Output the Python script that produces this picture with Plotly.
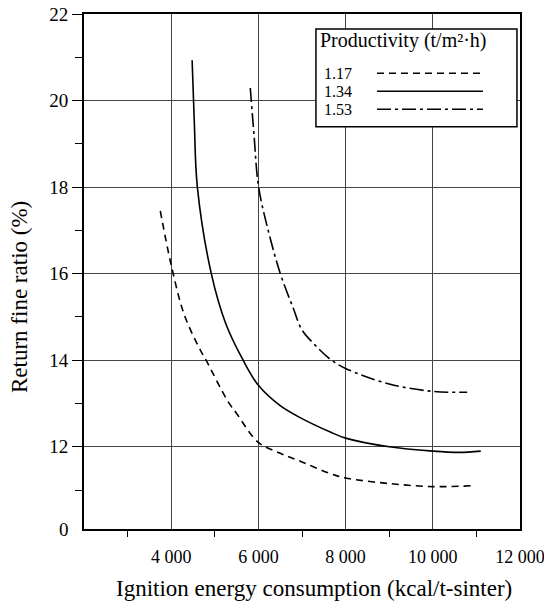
import plotly.graph_objects as go

# ---- data ----
x_117 = [3750, 4000, 4300, 4670, 4800, 5300, 5500, 6000, 6500, 7000, 7650, 8000, 9000, 10000, 10900]
y_117 = [17.45, 16.2, 15.05, 14.23, 14.0, 13.05, 12.77, 12.1, 11.85, 11.65, 11.38, 11.28, 11.15, 11.08, 11.1]

x_134 = [4480, 4530, 4600, 4920, 5250, 5650, 6000, 6500, 7000, 7650, 8000, 9000, 10000, 10600, 11100]
y_134 = [20.93, 19.5, 18.0, 16.0, 14.85, 14.0, 13.42, 12.95, 12.65, 12.34, 12.2, 12.0, 11.9, 11.87, 11.9]

x_153 = [5814, 5900, 6005, 6250, 6503, 6800, 7000, 7300, 7650, 8000, 9000, 10000, 10790]
y_153 = [20.29, 19.2, 18.0, 16.9, 16.0, 15.2, 14.7, 14.35, 14.02, 13.81, 13.45, 13.28, 13.26]

series_names = ["1.17", "1.34", "1.53"]
x_ticks = [4000, 6000, 8000, 10000, 12000]
x_ticktext = ["4 000", "6 000", "8 000", "10 000", "12 000"]
x_minor = [3000, 5000, 7000, 9000, 11000]
y_ticks = [12, 14, 16, 18, 20, 22]
y_ticktext = ["12", "14", "16", "18", "20", "22"]
y_minor = [11, 13, 15, 17, 19, 21]

FONT = "Liberation Serif, DejaVu Serif, serif"
dashes = ["7px,5px", "solid", "14px,4px,3px,4px"]

fig = go.Figure()
for xs, ys, name, dash in zip([x_117, x_134, x_153], [y_117, y_134, y_153], series_names, dashes):
    fig.add_trace(go.Scatter(x=xs, y=ys, mode="lines", name=name,
                             line=dict(color="black", width=1.6, dash=dash, shape="spline", smoothing=1.0),
                             showlegend=False))

fig.update_layout(
    width=544, height=602,
    margin=dict(l=84, r=24, t=14, b=73, autoexpand=False),
    paper_bgcolor="white", plot_bgcolor="white",
    font=dict(family=FONT, size=19, color="black"),
)
fig.update_xaxes(
    range=[2000, 12000], tickvals=x_ticks, ticktext=x_ticktext,
    showgrid=True, gridcolor="#444", gridwidth=1,
    showline=True, linecolor="black", linewidth=2, mirror=True,
    ticks="", zeroline=False, automargin=False, ticklabelstandoff=10,
    ticklabeloverflow="allow",
    minor=dict(tickvals=x_minor, ticks="outside", ticklen=6, tickcolor="black", showgrid=False),
    tickfont=dict(size=18),
)
fig.update_yaxes(
    range=[10.1, 22], tickvals=y_ticks, ticktext=y_ticktext,
    showgrid=True, gridcolor="#444", gridwidth=1,
    showline=True, linecolor="black", linewidth=2, mirror=True,
    ticks="outside", ticklen=10, tickcolor="black", zeroline=False, automargin=False,
    ticklabeloverflow="allow",
    minor=dict(tickvals=y_minor, ticks="outside", ticklen=7, tickcolor="black", showgrid=False),
    tickfont=dict(size=19),
)

# axis titles
fig.add_annotation(xref="paper", yref="paper", x=0.5275, y=-0.1146,
                   text="Ignition energy consumption (kcal/t-sinter)",
                   showarrow=False, xanchor="center", yanchor="middle", font=dict(size=23))
fig.add_annotation(xref="paper", yref="paper", x=-0.1468, y=0.4505,
                   text="Return fine ratio (%)", textangle=-90,
                   showarrow=False, xanchor="center", yanchor="middle", font=dict(size=23))

# "0" label at the (broken) bottom of the y axis
fig.add_annotation(xref="paper", yref="paper", x=0, y=0, xshift=-13, text="0",
                   showarrow=False, xanchor="right", yanchor="middle", font=dict(size=19))

# custom legend box (text left, line sample right)
fig.add_shape(type="rect", xref="paper", yref="paper", x0=0.532, x1=0.993, y0=0.781, y1=0.971,
              line=dict(color="black", width=1.5), fillcolor="white", layer="above")
fig.add_annotation(xref="paper", yref="paper", x=0.536, y=0.948, text="Productivity (t/m²·h)",
                   showarrow=False, xanchor="left", yanchor="middle", font=dict(size=20))
for name, dash, yy in zip(series_names, dashes, [0.885, 0.850, 0.815]):
    fig.add_annotation(xref="paper", yref="paper", x=0.546, y=yy, text=name,
                       showarrow=False, xanchor="left", yanchor="middle", font=dict(size=16))
    fig.add_shape(type="line", xref="paper", yref="paper", x0=0.672, x1=0.915, y0=yy, y1=yy,
                  line=dict(color="black", width=1.6, dash=dash), layer="above")

fig.write_html("out.html", config={"displayModeBar": False},
               post_script="document.body.style.margin='0';")
